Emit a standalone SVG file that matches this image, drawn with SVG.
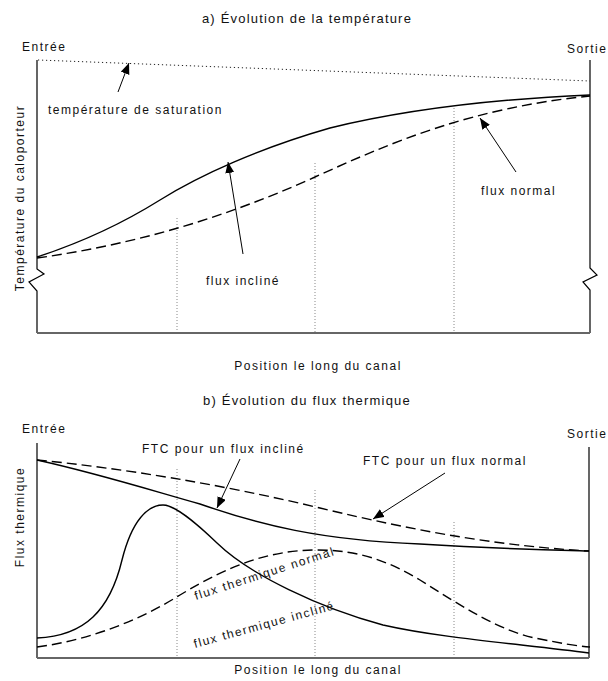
<svg xmlns="http://www.w3.org/2000/svg" width="608" height="681" viewBox="0 0 608 681">
  <defs>
    <style>
      text { font-family: "Liberation Sans", Arial, sans-serif; font-size: 12px; fill: #111; letter-spacing: 1.5px; }
      .title { font-size: 13px; letter-spacing: 1.2px; text-anchor: middle; }
      .mid { text-anchor: middle; }
      .axis { fill: none; stroke: #000; stroke-width: 1.2; }
      .base { fill: none; stroke: #666; stroke-width: 2; }
      .grid { fill: none; stroke: #888; stroke-width: 1; stroke-dasharray: 1 2; }
      .sat { fill: none; stroke: #222; stroke-width: 1; stroke-dasharray: 1.2 2.8; }
      .solid { fill: none; stroke: #000; stroke-width: 1.4; }
      .dash { fill: none; stroke: #000; stroke-width: 1.4; stroke-dasharray: 10 5; }
      .lead { fill: none; stroke: #000; stroke-width: 1; marker-end: url(#head); }
    </style>
    <marker id="head" markerUnits="userSpaceOnUse" markerWidth="12" markerHeight="10" refX="11" refY="4.5" orient="auto">
      <path d="M0,0 L11,4.5 L0,9 z" fill="#000"/>
    </marker>
  </defs>

  <!-- ===== a) coolant temperature ===== -->
  <g id="chart-a">
    <text class="title" x="307" y="23">a)  Évolution de la température</text>
    <text x="22" y="51">Entrée</text>
    <text x="567" y="53">Sortie</text>
    <text transform="translate(24,198) rotate(-90)" class="mid">Température du caloporteur</text>
    <text class="mid" x="318" y="370">Position le long du canal</text>

    <!-- frame with axis breaks -->
    <polyline class="axis" points="37,60 37,269 44,274 29,282 37,291 37,333"/>
    <polyline class="axis" points="590,60 590,268 597,275 583,282 590,290 590,333"/>
    <line class="base" x1="37" y1="333" x2="590" y2="333"/>

    <!-- stations along the channel -->
    <line class="grid" x1="177" y1="218" x2="177" y2="332"/>
    <line class="grid" x1="315" y1="163" x2="315" y2="332"/>
    <line class="grid" x1="454" y1="108" x2="454" y2="332"/>

    <!-- saturation temperature -->
    <line class="sat" x1="38" y1="60" x2="590" y2="81"/>

    <!-- coolant temperature curves -->
    <path id="temp-incline" class="solid" d="M37,257 C80,243 120,225 160,200 C200,175 260,148 330,128 C420,106 520,98 590,95"/>
    <path id="temp-normal" class="dash" d="M37,258 C130,245 220,220 315,177 C390,143 470,108 590,96"/>

    <text x="48" y="114">température de saturation</text>
    <text x="206" y="285">flux incliné</text>
    <text x="481" y="195">flux normal</text>
  </g>

  <!-- ===== b) heat flux ===== -->
  <g id="chart-b">
    <text class="title" x="307" y="405">b)  Évolution du flux thermique</text>
    <text x="22" y="433">Entrée</text>
    <text x="567" y="438">Sortie</text>
    <text transform="translate(24,517) rotate(-90)" class="mid">Flux thermique</text>
    <text class="mid" x="318" y="674">Position le long du canal</text>

    <line class="axis" x1="37" y1="443" x2="37" y2="658"/>
    <line class="axis" x1="589" y1="447" x2="589" y2="658"/>
    <line class="base" x1="37" y1="658" x2="589" y2="658"/>

    <line class="grid" x1="177" y1="469" x2="177" y2="657"/>
    <line class="grid" x1="315" y1="490" x2="315" y2="657"/>
    <line class="grid" x1="454" y1="522" x2="454" y2="657"/>

    <!-- critical heat flux -->
    <path id="ftc-incline" class="solid" d="M37,460 C100,474 150,490 200,504 C260,525 320,540 420,544 C500,549 550,550 589,551"/>
    <path id="ftc-normal" class="dash" d="M37,460 C120,468 220,484 320,508 C420,532 500,546 589,551"/>

    <!-- heat flux profiles -->
    <path id="flux-incline" class="solid" d="M37,638 C85,636 110,610 122,560 C132,520 148,505 163,505 C175,505 195,522 217,543 C250,575 320,608 383,625 C440,638 520,644 589,653"/>
    <path id="flux-normal" class="dash" d="M37,647 C90,640 140,620 180,595 C230,565 270,550 317,550 C360,550 390,562 420,580 C460,605 500,632 540,639 C560,643 575,646 590,647"/>

    <text x="142" y="453">FTC pour un flux incliné</text>
    <text x="363" y="465">FTC pour un flux normal</text>
    <text transform="translate(196,600) rotate(-18)">flux thermique normal</text>
    <text transform="translate(195,648) rotate(-15.5)">flux thermique incliné</text>
  </g>

  <!-- leader arrows -->
  <g id="connectors">
    <line class="lead" x1="118" y1="92" x2="129" y2="63"/>
    <line class="lead" x1="243" y1="254" x2="228" y2="162"/>
    <line class="lead" x1="516" y1="172" x2="480" y2="118"/>
    <line class="lead" x1="240" y1="459" x2="217" y2="508"/>
    <line class="lead" x1="445" y1="473" x2="373" y2="519"/>
  </g>
</svg>
